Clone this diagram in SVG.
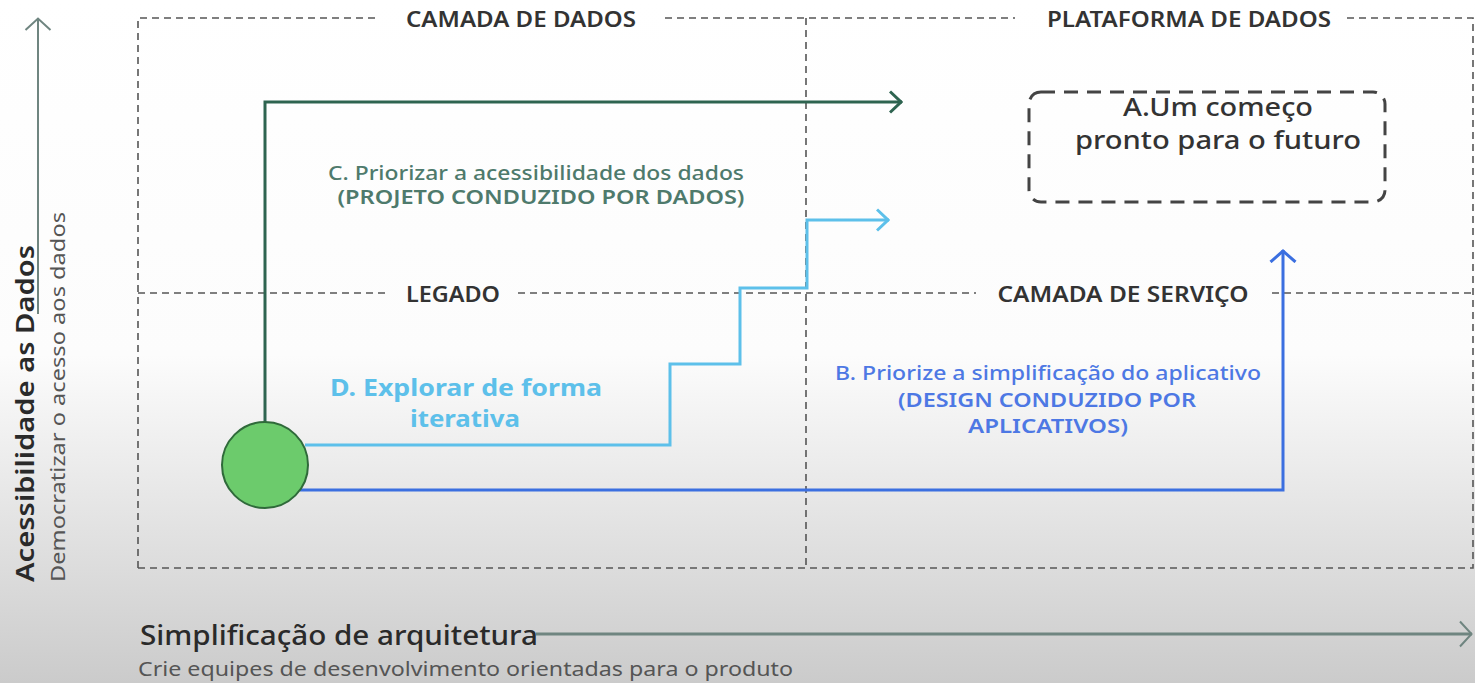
<svg xmlns="http://www.w3.org/2000/svg" width="1475" height="683" viewBox="0 0 1475 683">
<defs>
<linearGradient id="bg" x1="0" y1="0" x2="0" y2="1">
<stop offset="0" stop-color="#ffffff"/>
<stop offset="0.52" stop-color="#fcfcfc"/>
<stop offset="1" stop-color="#cbcbcb"/>
</linearGradient>
<marker id="chevG" viewBox="0 0 14 24" refX="13" refY="12" markerWidth="14" markerHeight="24" markerUnits="userSpaceOnUse" orient="auto"><path d="M1,1.5 L12,12 L1,22.5" fill="none" stroke="#2e6450" stroke-width="3"/></marker>
<marker id="chevL" viewBox="0 0 14 24" refX="13" refY="12" markerWidth="14" markerHeight="24" markerUnits="userSpaceOnUse" orient="auto"><path d="M1,1.5 L12,12 L1,22.5" fill="none" stroke="#5dc0ea" stroke-width="3"/></marker>
<marker id="chevB" viewBox="0 0 14 28" refX="13" refY="14" markerWidth="14" markerHeight="28" markerUnits="userSpaceOnUse" orient="auto"><path d="M1,1.5 L12,14 L1,26.5" fill="none" stroke="#3b6fe0" stroke-width="3"/></marker>
<marker id="chevA" viewBox="0 0 14 28" refX="13" refY="14" markerWidth="14" markerHeight="28" markerUnits="userSpaceOnUse" orient="auto"><path d="M1,1.5 L12.5,14 L1,26.5" fill="none" stroke="#6f8580" stroke-width="2"/></marker>
</defs>
<style>
.dash{fill:none;stroke:#555;stroke-width:1.6;stroke-dasharray:7 5}
.zone{font-family:"Noto Sans","Liberation Sans",sans-serif;font-weight:600;font-size:21px;fill:#333;text-anchor:middle}
.t{font-family:"Noto Sans","Liberation Sans",sans-serif}
</style>
<rect width="1475" height="683" fill="url(#bg)"/>

<g id="grid">
<path class="dash" d="M138,568 L138,18 L376,18 M665,18 L1015,18 M1347,18 L1473,18 L1473,568 L138,568"/>
<path class="dash" d="M806,18 L806,568"/>
<path class="dash" d="M138,293 L388,293 M518,293 L976,293 M1272,293 L1473,293"/>
<text class="zone" x="521" y="27" textLength="230" lengthAdjust="spacingAndGlyphs">CAMADA DE DADOS</text>
<text class="zone" x="1189" y="27" textLength="284" lengthAdjust="spacingAndGlyphs">PLATAFORMA DE DADOS</text>
<text class="zone" x="453" y="302" textLength="94" lengthAdjust="spacingAndGlyphs">LEGADO</text>
<text class="zone" x="1123" y="302" textLength="251" lengthAdjust="spacingAndGlyphs">CAMADA DE SERVIÇO</text>
</g>

<g id="axes">
<path d="M38,314 L38,18" fill="none" stroke="#6f8580" stroke-width="2" marker-end="url(#chevA)"/>
<path d="M536,634 L1472,634" fill="none" stroke="#6f8580" stroke-width="3" marker-end="url(#chevA)"/>
<text class="t" transform="translate(34,582) rotate(-90)" font-size="26" font-weight="600" fill="#2a2a2a" textLength="337" lengthAdjust="spacingAndGlyphs">Acessibilidade as Dados</text>
<text class="t" transform="translate(65,582) rotate(-90)" font-size="19" fill="#555" textLength="370" lengthAdjust="spacingAndGlyphs">Democratizar o acesso aos dados</text>
<text class="t" x="140" y="645" font-size="27" font-weight="500" fill="#2a2a2a" textLength="398" lengthAdjust="spacingAndGlyphs">Simplificação de arquitetura</text>
<text class="t" x="138" y="676" font-size="19" fill="#555" textLength="655" lengthAdjust="spacingAndGlyphs">Crie equipes de desenvolvimento orientadas para o produto</text>
</g>

<g id="connectors" fill="none" stroke-width="3">
<path d="M265,422 L265,102 L902,102" stroke="#2e6450" marker-end="url(#chevG)"/>
<path d="M305,445 L670,445 L670,364 L740,364 L740,288 L807,288 L807,220 L889,220" stroke="#5dc0ea" marker-end="url(#chevL)"/>
<path d="M300,490 L1283,490 L1283,250" stroke="#3b6fe0" marker-end="url(#chevB)"/>
</g>

<g id="start">
<circle cx="265" cy="465" r="43" fill="#6ccb6c" stroke="#2f6a3a" stroke-width="2"/>
</g>

<g id="nodeA">
<rect x="1029" y="92" width="356" height="110" rx="12" fill="none" stroke="#444" stroke-width="3" stroke-dasharray="14 9"/>
<text class="t" x="1218" y="116" font-size="25" font-weight="500" fill="#333" text-anchor="middle" textLength="190" lengthAdjust="spacingAndGlyphs">A.Um começo</text>
<text class="t" x="1218" y="149" font-size="25" font-weight="500" fill="#333" text-anchor="middle" textLength="286" lengthAdjust="spacingAndGlyphs">pronto para o futuro</text>
</g>

<g id="labelC">
<text class="t" x="536" y="180" font-size="19" font-weight="500" fill="#4e7a6c" text-anchor="middle" textLength="416" lengthAdjust="spacingAndGlyphs">C. Priorizar a acessibilidade dos dados</text>
<text class="t" x="541" y="204" font-size="19" font-weight="600" fill="#4e7a6c" text-anchor="middle" textLength="407" lengthAdjust="spacingAndGlyphs">(PROJETO CONDUZIDO POR DADOS)</text>
</g>

<g id="labelD">
<text class="t" x="466" y="396" font-size="23" font-weight="700" fill="#5dc0ea" text-anchor="middle" textLength="272" lengthAdjust="spacingAndGlyphs">D. Explorar de forma</text>
<text class="t" x="465" y="427" font-size="23" font-weight="700" fill="#5dc0ea" text-anchor="middle" textLength="110" lengthAdjust="spacingAndGlyphs">iterativa</text>
</g>

<g id="labelB">
<text class="t" x="1048" y="380" font-size="19" font-weight="500" fill="#4d78e4" text-anchor="middle" textLength="426" lengthAdjust="spacingAndGlyphs">B. Priorize a simplificação do aplicativo</text>
<text class="t" x="1047" y="407" font-size="19" font-weight="600" fill="#4d78e4" text-anchor="middle" textLength="298" lengthAdjust="spacingAndGlyphs">(DESIGN CONDUZIDO POR</text>
<text class="t" x="1048" y="433" font-size="19" font-weight="600" fill="#4d78e4" text-anchor="middle" textLength="160" lengthAdjust="spacingAndGlyphs">APLICATIVOS)</text>
</g>
</svg>
